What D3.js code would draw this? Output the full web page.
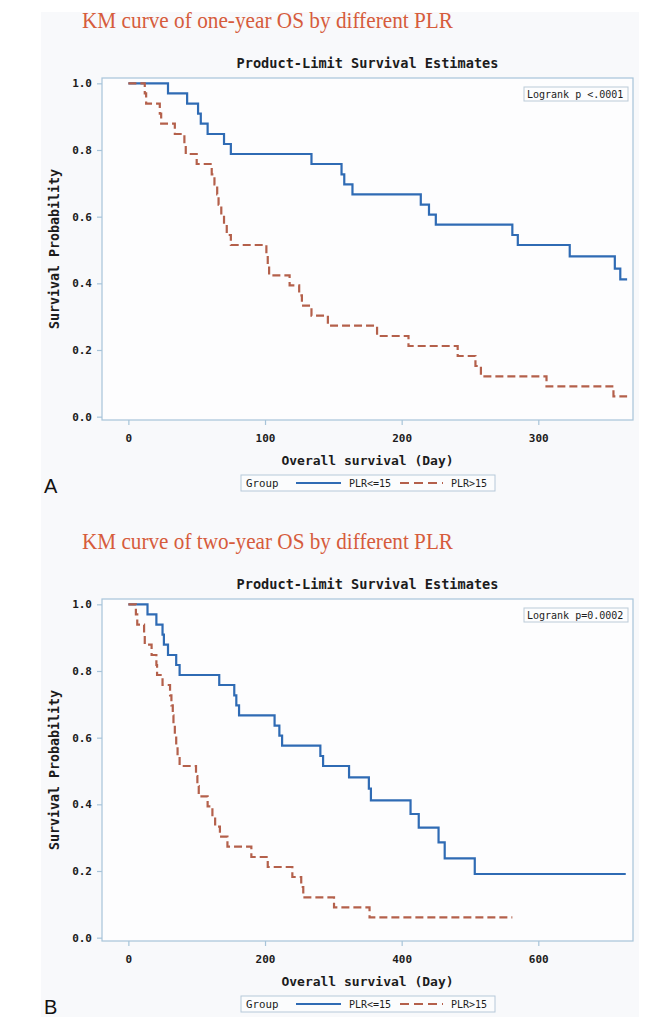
<!DOCTYPE html>
<html lang="en">
<head>
<meta charset="utf-8">
<title>KM curves by PLR</title>
<script src="https://cdnjs.cloudflare.com/ajax/libs/d3/7.8.5/d3.min.js"></script>
<style>
  body { margin: 0; background: #fff; }
  svg text { font-family: "DejaVu Sans Mono", monospace; fill: #1c1c1c; }
</style>
</head>
<body>
<script>
// groups, ticks and p-values
var groups = ["PLR<=15", "PLR>15"];
var yTicks = [0, 0.2, 0.4, 0.6, 0.8, 1.0];
var xTicksOne = [0, 100, 200, 300];
var xTicksTwo = [0, 200, 400, 600];
var pTexts = ["Logrank p <.0001", "Logrank p=0.0002"];

// one-year OS (panel A), last point = end of follow-up
var oneLowDay  = [0, 29, 43, 51, 53, 58, 70, 75, 134, 156, 158, 164, 214, 220, 225, 281, 285, 323, 356, 360, 365];
var oneLowSurv = [1, 0.970, 0.939, 0.909, 0.879, 0.848, 0.818, 0.788, 0.758, 0.727, 0.697, 0.667, 0.636, 0.606, 0.576, 0.545, 0.515, 0.481, 0.444, 0.412, 0.412];
var oneHighDay  = [0, 12, 13, 23, 24, 34, 41, 42, 50, 61, 63, 65, 66, 68, 70, 72, 75, 101, 102, 103, 118, 125, 127, 134, 146, 182, 205, 241, 254, 258, 306, 355, 365];
var oneHighSurv = [1, 0.970, 0.939, 0.909, 0.879, 0.848, 0.818, 0.788, 0.758, 0.727, 0.697, 0.667, 0.636, 0.606, 0.576, 0.545, 0.515, 0.485, 0.455, 0.424, 0.394, 0.364, 0.333, 0.303, 0.273, 0.242, 0.212, 0.182, 0.152, 0.121, 0.091, 0.061, 0.061];

// two-year OS (panel B)
var twoLowDay  = [0, 28, 41, 50, 52, 58, 70, 75, 133, 155, 158, 162, 214, 221, 225, 281, 285, 323, 352, 355, 413, 425, 454, 463, 507, 728];
var twoLowSurv = [1, 0.970, 0.939, 0.909, 0.879, 0.848, 0.818, 0.788, 0.758, 0.727, 0.697, 0.667, 0.636, 0.606, 0.576, 0.545, 0.515, 0.481, 0.447, 0.412, 0.371, 0.330, 0.286, 0.238, 0.191, 0.191];
var twoHighDay  = [0, 11, 13, 23, 24, 34, 41, 42, 50, 61, 63, 65, 66, 68, 70, 72, 75, 99, 101, 103, 116, 123, 127, 134, 145, 180, 204, 240, 253, 256, 301, 353, 562];
var twoHighSurv = [1, 0.970, 0.939, 0.909, 0.879, 0.848, 0.818, 0.788, 0.758, 0.727, 0.697, 0.667, 0.636, 0.606, 0.576, 0.545, 0.515, 0.485, 0.455, 0.424, 0.394, 0.364, 0.333, 0.303, 0.273, 0.242, 0.212, 0.182, 0.152, 0.121, 0.091, 0.061, 0.061];

var colors = ["#2f6bb4", "#b4604b"];
var frameColor = "#a7c4d9";

var svg = d3.select("body").append("svg")
    .attr("width", 662)
    .attr("height", 1017);

// light figure background
svg.append("rect")
   .attr("x", 41).attr("y", 12)
   .attr("width", 598).attr("height", 1005)
   .attr("fill", "#f8f9fb");

function drawPanel(cfg) {
  var left = 102, right = 633, top = cfg.top, bottom = cfg.top + 342;

  var x = d3.scaleLinear().domain(cfg.xDomain).range([left, right]);
  var y = d3.scaleLinear().domain([-0.01, 1.016]).range([bottom, top]);

  // orange title above the panel
  svg.append("text")
     .attr("x", 82).attr("y", top - 50)
     .attr("textLength", 371)
     .attr("lengthAdjust", "spacingAndGlyphs")
     .style("font-family", "'Liberation Serif', 'Times New Roman', serif")
     .style("font-size", "23.5px")
     .style("fill", "#d65c3c")
     .text(cfg.title);

  svg.append("text")
     .attr("x", (left + right) / 2).attr("y", top - 10)
     .attr("text-anchor", "middle")
     .style("font-size", "13.6px")
     .style("font-weight", "bold")
     .text("Product-Limit Survival Estimates");

  // plot frame
  svg.append("rect")
     .attr("x", left).attr("y", top)
     .attr("width", right - left).attr("height", bottom - top)
     .attr("fill", "#fdfdfe")
     .attr("stroke", frameColor)
     .attr("stroke-width", 1.2);

  // axes
  var yAxis = svg.append("g")
     .attr("transform", "translate(" + left + ",0)")
     .call(d3.axisLeft(y).tickValues(yTicks).tickFormat(d3.format(".1f")).tickSize(5).tickPadding(5));
  var xAxis = svg.append("g")
     .attr("transform", "translate(0," + bottom + ")")
     .call(d3.axisBottom(x).tickValues(cfg.xTicks).tickSize(5).tickPadding(9));
  [yAxis, xAxis].forEach(function(a) {
    a.select(".domain").remove();
    a.selectAll(".tick line").attr("stroke", frameColor).attr("stroke-width", 1.2);
    a.selectAll(".tick text")
     .style("font-family", "'DejaVu Sans Mono', monospace")
     .style("font-size", "11px")
     .style("font-weight", "bold")
     .style("fill", "#1c1c1c");
  });

  // axis titles
  svg.append("text")
     .attr("transform", "translate(59," + (top + bottom) / 2 + ") rotate(-90)")
     .attr("text-anchor", "middle")
     .style("font-size", "13.3px")
     .style("font-weight", "bold")
     .text("Survival Probability");

  svg.append("text")
     .attr("x", (left + right) / 2).attr("y", bottom + 45)
     .attr("text-anchor", "middle")
     .style("font-size", "13px")
     .style("font-weight", "bold")
     .text("Overall survival (Day)");

  // survival step curves
  var line = d3.line()
      .x(function(d) { return x(d[0]); })
      .y(function(d) { return y(d[1]); })
      .curve(d3.curveStepAfter);

  cfg.series.forEach(function(s, i) {
    var pts = s.day.map(function(d, j) { return [d, s.surv[j]]; });
    svg.append("path")
       .datum(pts)
       .attr("fill", "none")
       .attr("stroke", colors[i])
       .attr("stroke-width", 2.2)
       .attr("stroke-dasharray", i == 1 ? "8,4" : null)
       .attr("d", line);
  });

  // logrank inset
  svg.append("rect")
     .attr("x", 524).attr("y", top + 9)
     .attr("width", 104).attr("height", 14)
     .attr("fill", "#fdfdfe")
     .attr("stroke", "#bccbd8");
  svg.append("text")
     .attr("x", 527).attr("y", top + 20)
     .style("font-size", "10px")
     .text(cfg.pText);

  // legend
  var ly = bottom + 55;
  var lx = 241;
  svg.append("rect")
     .attr("x", lx).attr("y", ly)
     .attr("width", 254).attr("height", 16)
     .attr("fill", "#fbfcfd")
     .attr("stroke", "#b6c9d9");
  svg.append("text")
     .attr("x", lx + 5).attr("y", ly + 12)
     .style("font-size", "10.8px")
     .text("Group");
  var keyX = [[lx + 55, lx + 100, lx + 108], [lx + 159, lx + 202, lx + 210]];
  groups.forEach(function(gname, i) {
    svg.append("line")
       .attr("x1", keyX[i][0]).attr("x2", keyX[i][1])
       .attr("y1", ly + 8).attr("y2", ly + 8)
       .attr("stroke", colors[i])
       .attr("stroke-width", 2)
       .attr("stroke-dasharray", i == 1 ? "9,5" : null);
    svg.append("text")
       .attr("x", keyX[i][2]).attr("y", ly + 12)
       .style("font-size", "10px")
       .text(gname);
  });

  // panel letter
  svg.append("text")
     .attr("x", 44).attr("y", bottom + 73)
     .style("font-family", "'Liberation Sans', Arial, sans-serif")
     .style("font-size", "20px")
     .style("fill", "#111")
     .text(cfg.letter);
}

drawPanel({
  top: 78, title: "KM curve of one-year OS by different PLR",
  xDomain: [-19.3, 369.3], xTicks: xTicksOne, pText: pTexts[0], letter: "A",
  series: [{day: oneLowDay, surv: oneLowSurv}, {day: oneHighDay, surv: oneHighSurv}]
});

drawPanel({
  top: 599, title: "KM curve of two-year OS by different PLR",
  xDomain: [-38.6, 738.6], xTicks: xTicksTwo, pText: pTexts[1], letter: "B",
  series: [{day: twoLowDay, surv: twoLowSurv}, {day: twoHighDay, surv: twoHighSurv}]
});
</script>
</body>
</html>
